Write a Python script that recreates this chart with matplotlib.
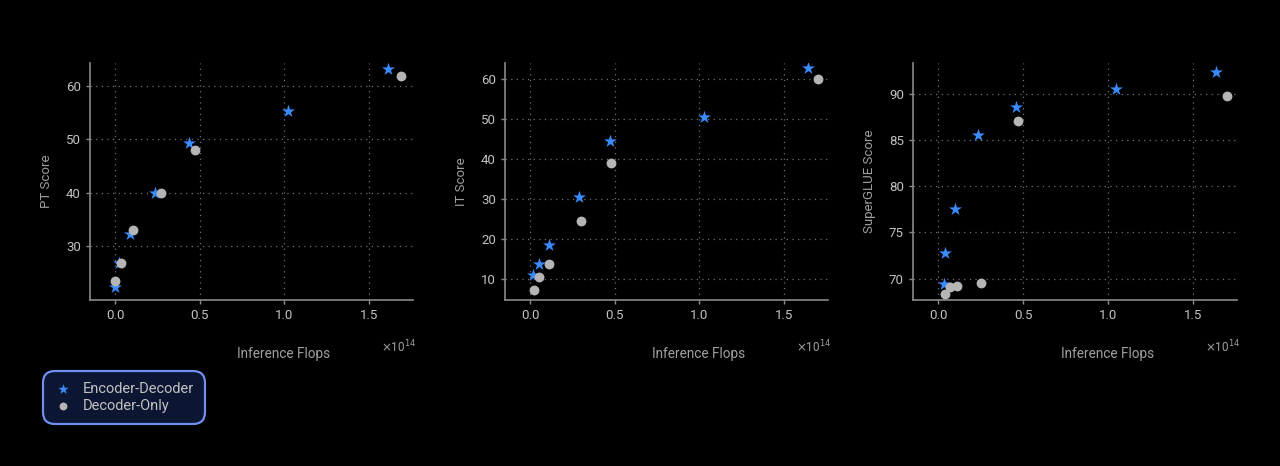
import matplotlib
matplotlib.use("Agg")
import matplotlib.pyplot as plt

# flops in units of 1e14
enc_dec_flops_pt = [0.0, 0.025, 0.088, 0.237, 0.437, 1.02, 1.61]
enc_dec_pt = [22.4, 26.9, 32.3, 40.0, 49.3, 55.3, 63.2]
dec_only_flops_pt = [0.0, 0.033, 0.108, 0.27, 0.47, 1.69]
dec_only_pt = [23.5, 26.9, 33.0, 40.0, 48.0, 61.9]

enc_dec_flops_it = [0.02, 0.05, 0.109, 0.29, 0.47, 1.03, 1.64]
enc_dec_it = [11.1, 13.8, 18.6, 30.6, 44.7, 50.7, 62.8]
dec_only_flops_it = [0.026, 0.05, 0.109, 0.30, 0.48, 1.70]
dec_only_it = [7.3, 10.6, 13.8, 24.6, 39.1, 60.0]

enc_dec_flops_sg = [0.032, 0.042, 0.099, 0.236, 0.458, 1.05, 1.635]
enc_dec_sg = [69.4, 72.8, 77.5, 85.5, 88.6, 90.5, 92.3]
dec_only_flops_sg = [0.038, 0.067, 0.113, 0.25, 0.47, 1.70]
dec_only_sg = [68.3, 69.1, 69.2, 69.5, 87.0, 89.7]

y_labels = ["PT Score", "IT Score", "SuperGLUE Score"]
y_limits = [(19.9, 64.3), (4.8, 64.1), (67.7, 93.3)]
y_ticks = [[30, 40, 50, 60], [10, 20, 30, 40, 50, 60], [70, 75, 80, 85, 90]]
x_ticks = [0.0, 0.5, 1.0, 1.5]

star_color = "#3a8bff"
dot_color = "#b5b5b5"
text_color = "#c2c2c2"
label_color = "#a0a0a0"
spine_color = "#8a8a8a"
grid_color = "#707070"

plt.rcParams['font.family'] = ['Roboto', 'DejaVu Sans']

fig = plt.figure(figsize=(12.8, 4.66), dpi=100)
fig.patch.set_facecolor("black")

lefts = [90, 505, 913]
widths = [323, 323, 324]
panels = [
    (enc_dec_flops_pt, enc_dec_pt, dec_only_flops_pt, dec_only_pt),
    (enc_dec_flops_it, enc_dec_it, dec_only_flops_it, dec_only_it),
    (enc_dec_flops_sg, enc_dec_sg, dec_only_flops_sg, dec_only_sg),
]

for i, (ex, ey, dx, dy) in enumerate(panels):
    ax = fig.add_axes([lefts[i] / 1280, (466 - 300) / 466, widths[i] / 1280, 237 / 466])
    ax.set_facecolor("black")
    ax.scatter(ex, ey, marker="*", s=95, color=star_color, linewidths=0, zorder=3,
               label="Encoder-Decoder")
    ax.scatter(dx, dy, marker="o", s=50, color=dot_color, linewidths=0, zorder=4,
               label="Decoder-Only")
    ax.set_xlim(-0.148, 1.76)
    ax.set_ylim(*y_limits[i])
    ax.set_xticks(x_ticks)
    ax.set_xticklabels(["%.1f" % t for t in x_ticks])
    ax.set_yticks(y_ticks[i])
    ax.grid(True, linestyle=(0, (1, 3.5)), color=grid_color, linewidth=0.9)
    for side in ["top", "right"]:
        ax.spines[side].set_visible(False)
    for side in ["left", "bottom"]:
        ax.spines[side].set_color(spine_color)
        ax.spines[side].set_linewidth(1.2)
    ax.tick_params(colors=spine_color, labelcolor=text_color, labelsize=9.5, length=3, width=1)
    ax.set_ylabel(y_labels[i], color=label_color, fontsize=9.5, labelpad=9)
    ax.set_xlabel("Inference Flops", color=label_color, fontsize=9.8)
    ax.xaxis.set_label_coords(0.6, -0.2)
    ax.text(1.01, -0.222, r"$\times$10$^{14}$", transform=ax.transAxes, ha="right",
            va="baseline", color=label_color, fontsize=8.5)
    if i == 0:
        handles, labels = ax.get_legend_handles_labels()

leg = fig.legend(handles, labels, loc="upper left", bbox_to_anchor=(43 / 1280, 1 - 371 / 466),
                 borderaxespad=0, frameon=True, fancybox=True, fontsize=10.5,
                 labelcolor=text_color, handletextpad=0.75, borderpad=0.75,
                 labelspacing=0.2, handlelength=1.2, markerscale=0.8)
frame = leg.get_frame()
frame.set_facecolor("#0c1633")
frame.set_edgecolor("#6f8ff0")
frame.set_linewidth(1.6)
frame.set_alpha(1)
frame.set_boxstyle("round,pad=0,rounding_size=0.8")

fig.savefig("out.png", dpi=100, facecolor=fig.get_facecolor())
